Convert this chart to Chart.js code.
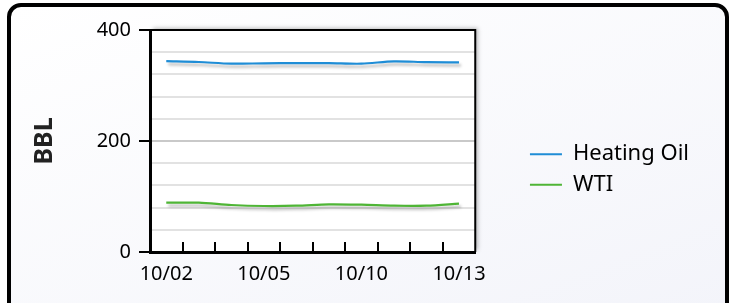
<!DOCTYPE html>
<html>
<head>
<meta charset="utf-8">
<script src="https://cdn.jsdelivr.net/npm/chart.js@4"></script>
<style>
  html, body { margin: 0; padding: 0; width: 735px; height: 303px; overflow: hidden; background: #fff; }
  #frame {
    position: absolute; left: 7px; top: 3px; width: 714px; height: 310px;
    border: 4px solid #000; border-radius: 14px;
    background: linear-gradient(160deg, #ffffff 0%, #f3f4fa 100%);
  }
  #wrap { position: absolute; left: 0; top: 0; width: 735px; height: 309px; }
</style>
</head>
<body>
<div id="frame"></div>
<div id="wrap"><canvas id="chart"></canvas></div>
<script>
const dates = ["10/02", "10/03", "10/04", "10/05", "10/06", "10/09", "10/10", "10/11", "10/12", "10/13"];
const heatingOil = [344, 342.3, 339.3, 340, 340.2, 340.2, 339.3, 343.6, 342, 341.8];
const wti = [88.8, 88.8, 84.7, 82.9, 83.4, 85.9, 85.2, 83.4, 83.4, 87];
const yLabelled = [0, 200, 400];

const BLUE = "#1f8dd6";
const GREEN = "#4fb536";
const FONT = "Noto Sans";

// white plot background with a soft shadow, drawn before the grid
const plotFrame = {
  id: "plotFrame",
  beforeDraw(chart) {
    const { ctx, chartArea: a } = chart;
    ctx.save();
    ctx.shadowColor = "rgba(0,0,0,0.25)";
    ctx.shadowBlur = 4;
    ctx.shadowOffsetX = 3;
    ctx.shadowOffsetY = -2;
    ctx.fillStyle = "#fff";
    ctx.fillRect(a.left, a.top, a.right - a.left, a.bottom - a.top);
    ctx.restore();
  },
  afterDraw(chart) {
    const { ctx, chartArea: a } = chart;
    const xs = chart.scales.x;
    ctx.save();
    ctx.strokeStyle = "#000";
    ctx.lineWidth = 2;
    ctx.beginPath();
    ctx.moveTo(a.left, a.top);
    ctx.lineTo(a.right, a.top);
    ctx.lineTo(a.right, a.bottom);
    ctx.stroke();
    // inward tick marks between categories
    ctx.beginPath();
    for (let i = 0; i < dates.length - 1; i++) {
      const x = Math.round((xs.getPixelForValue(i) + xs.getPixelForValue(i + 1)) / 2);
      ctx.moveTo(x, a.bottom);
      ctx.lineTo(x, a.bottom - 10);
    }
    ctx.stroke();
    ctx.restore();
  },
};

const lineShadow = {
  id: "lineShadow",
  beforeDatasetDraw(chart) {
    const c = chart.ctx;
    c.save();
    c.shadowColor = "rgba(0,0,0,0.28)";
    c.shadowBlur = 3;
    c.shadowOffsetX = 2;
    c.shadowOffsetY = 3;
  },
  afterDatasetDraw(chart) {
    chart.ctx.restore();
  },
};

new Chart(document.getElementById("chart"), {
  type: "line",
  data: {
    labels: dates,
    datasets: [
      {
        label: "Heating Oil",
        data: heatingOil,
        borderColor: BLUE,
        backgroundColor: BLUE,
        borderWidth: 2.2,
        pointRadius: 0,
        tension: 0.3,
      },
      {
        label: "WTI",
        data: wti,
        borderColor: GREEN,
        backgroundColor: GREEN,
        borderWidth: 2.2,
        pointRadius: 0,
        tension: 0.3,
      },
    ],
  },
  options: {
    responsive: true,
    maintainAspectRatio: false,
    animation: false,
    layout: { padding: { top: 30, left: 25.5, right: 36, bottom: 0 } },
    plugins: {
      tooltip: { enabled: false },
      legend: {
        position: "right",
        align: "center",
        maxWidth: 400,
        labels: {
          boxWidth: 32,
          boxHeight: 2,
          padding: 8.7,
          color: "#000",
          font: { family: FONT, size: 22 },
          generateLabels(chart) {
            return Chart.defaults.plugins.legend.labels
              .generateLabels(chart)
              .map((l) => ({ ...l, fillStyle: l.strokeStyle, lineWidth: 0 }));
          },
        },
      },
    },
    scales: {
      x: {
        offset: true,
        grid: { display: false, drawTicks: false },
        border: { display: true, color: "#000", width: 3 },
        ticks: {
          autoSkip: false,
          maxRotation: 0,
          padding: 10,
          color: "#000",
          font: { family: FONT, size: 20 },
          callback(v, i) {
            return i % 3 === 0 ? this.getLabelForValue(v) : "";
          },
        },
        afterFit(s) {
          s.height = 57;
        },
      },
      y: {
        min: 0,
        max: 400,
        ticks: {
          stepSize: 40,
          autoSkip: false,
          padding: 8,
          color: "#000",
          font: { family: FONT, size: 20 },
          callback: (v) => (yLabelled.includes(v) ? v : ""),
        },
        grid: {
          color: (c) => (c.tick && c.tick.value === 200 ? "#c9c9c9" : "#e2e2e2"),
          lineWidth: 2,
          tickLength: 11,
          tickWidth: 2,
          tickColor: (c) => (c.tick && yLabelled.includes(c.tick.value) ? "#000" : "rgba(0,0,0,0)"),
        },
        border: { color: "#000", width: 3 },
        title: {
          display: true,
          text: "BBL",
          color: "#222",
          font: { family: FONT, size: 25, weight: "bold" },
        },
        afterFit(s) {
          s.width = 124.5;
        },
      },
      y2: {
        type: "linear",
        position: "right",
        grid: { display: false, drawTicks: false },
        border: { display: false },
        ticks: { display: false },
        afterFit(s) {
          s.width = 46;
        },
      },
    },
  },
  plugins: [plotFrame, lineShadow],
});
</script>
</body>
</html>
